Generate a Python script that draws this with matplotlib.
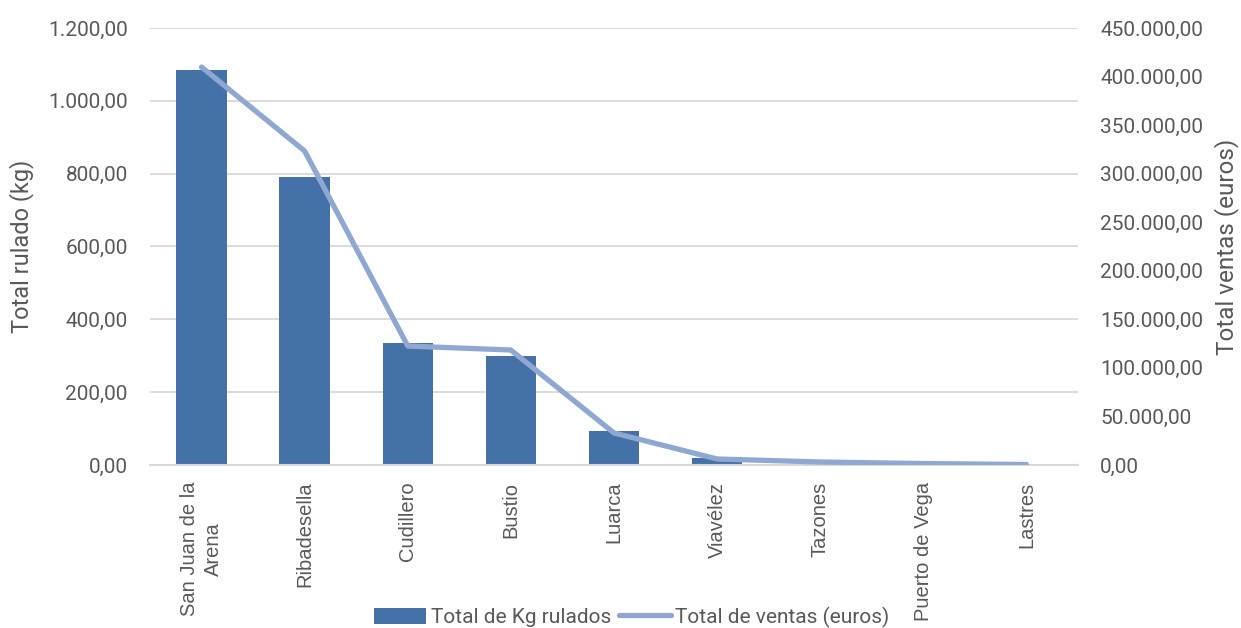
import matplotlib
matplotlib.use("Agg")
import matplotlib.pyplot as plt
from matplotlib.ticker import FuncFormatter, MultipleLocator
from matplotlib.patches import Patch
from matplotlib.lines import Line2D

categories = ["San Juan de la\nArena", "Ribadesella", "Cudillero", "Bustio", "Luarca",
              "Viavélez", "Tazones", "Puerto de Vega", "Lastres"]
kg_rulados = [1085, 791, 336, 299, 93, 19, 2, 1, 0.5]
ventas_euros = [409800, 323300, 122500, 118400, 33000, 6200, 3100, 1500, 500]

bar_color = "#4472A8"
line_color = "#8FA8D1"
text_color = "#595959"
grid_color = "#D9D9D9"
num_family = ["Roboto", "DejaVu Sans"]

def es_fmt(v, pos=None):
    s = f"{v:,.2f}"
    return s.replace(",", "X").replace(".", ",").replace("X", ".")

fig = plt.figure(figsize=(12.41, 6.28), dpi=100)
ax = fig.add_axes([150/1241, 1-465/628, (1078-150)/1241, (465-28)/628])
ax2 = ax.twinx()

x = list(range(len(categories)))
ax.bar(x, kg_rulados, width=0.49, color=bar_color, zorder=2)
ax2.plot(x, ventas_euros, color=line_color, linewidth=3.8, solid_capstyle="round",
         solid_joinstyle="round", zorder=3)

ax.set_xlim(-0.5, len(categories) - 0.5)
ax.set_ylim(0, 1200)
ax2.set_ylim(0, 450000)
ax.yaxis.set_major_locator(MultipleLocator(200))
ax2.yaxis.set_major_locator(MultipleLocator(50000))
ax.yaxis.set_major_formatter(FuncFormatter(es_fmt))
ax2.yaxis.set_major_formatter(FuncFormatter(es_fmt))

ax.grid(axis="y", color=grid_color, linewidth=1.3, zorder=0)
ax.set_axisbelow(True)
for a in (ax, ax2):
    for sp in ["top", "right", "left", "bottom"]:
        a.spines[sp].set_visible(False)
ax.spines["bottom"].set_visible(True)
ax.spines["bottom"].set_color(grid_color)
ax.spines["bottom"].set_linewidth(1.5)

ax.tick_params(axis="y", length=0, pad=16, labelsize=15, labelcolor=text_color)
ax2.tick_params(axis="y", length=0, pad=16, labelsize=15, labelcolor=text_color)
for lbl in ax.get_yticklabels() + ax2.get_yticklabels():
    lbl.set_fontfamily(num_family)

ax.set_xticks(x)
ax.set_xticklabels(categories, rotation=90, ha="center", va="top", multialignment="center",
                   fontsize=14.5, color=text_color, family=["Liberation Sans", "DejaVu Sans"],
                   linespacing=1.35)
ax.tick_params(axis="x", length=0, pad=12)

ax.set_ylabel("Total rulado (kg)", fontsize=17, color=text_color, labelpad=10, family=num_family)
ax2.set_ylabel("Total ventas (euros)", fontsize=17.5, color=text_color, labelpad=8, family=num_family)

handles = [Patch(facecolor=bar_color, edgecolor="none"),
           Line2D([0], [0], color=line_color, linewidth=3.8, solid_capstyle="round")]
fig.legend(handles, ["Total de Kg rulados", "Total de ventas (euros)"],
           loc="center", bbox_to_anchor=(632/1241, 1-617/628), ncol=2, frameon=False,
           prop=dict(family=num_family, size=15),
           labelcolor=text_color, handlelength=2.5, handleheight=0.8, handletextpad=0.2,
           columnspacing=0.4, borderpad=0)

fig.savefig("out.png", dpi=100, facecolor="white")
